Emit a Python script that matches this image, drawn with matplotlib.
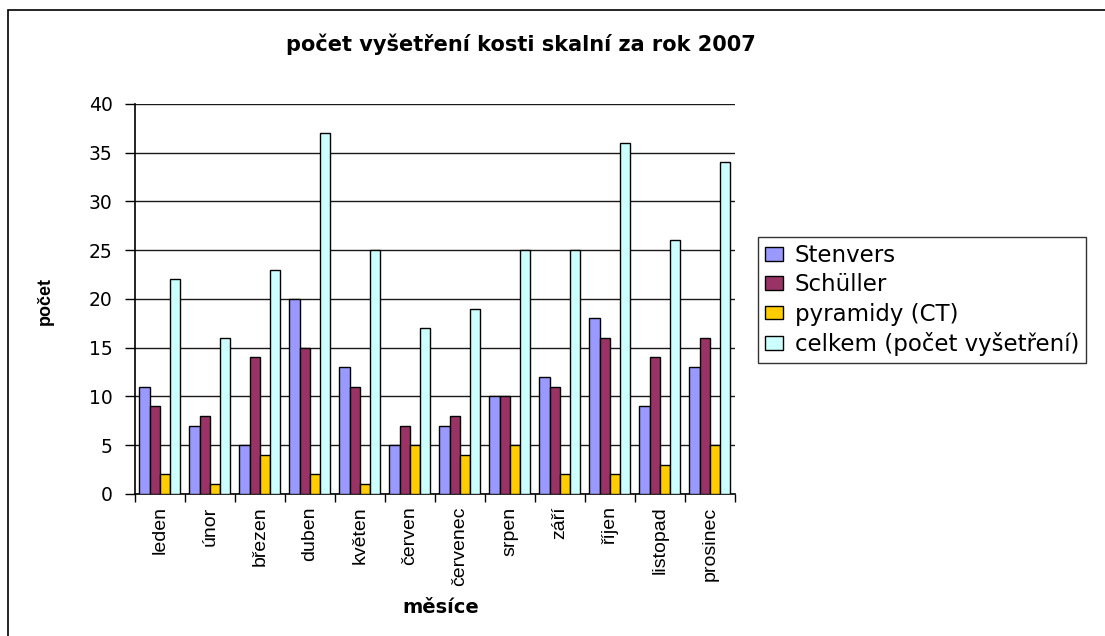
import matplotlib
matplotlib.use("Agg")
import matplotlib.pyplot as plt
import numpy as np
from matplotlib.patches import Rectangle

plt.rcParams["font.family"] = ["DejaVu Sans"]

# počet vyšetření podle měsíců
months = ["leden", "únor", "březen", "duben", "květen", "červen",
          "červenec", "srpen", "září", "říjen", "listopad", "prosinec"]
stenvers = [11, 7, 5, 20, 13, 5, 7, 10, 12, 18, 9, 13]
schuller = [9, 8, 14, 15, 11, 7, 8, 10, 11, 16, 14, 16]
pyramidy = [2, 1, 4, 2, 1, 5, 4, 5, 2, 2, 3, 5]
celkem = [22, 16, 23, 37, 25, 17, 19, 25, 25, 36, 26, 34]

series = [
    ("Stenvers", stenvers, "#9999ff"),
    ("Schüller", schuller, "#993366"),
    ("pyramidy (CT)", pyramidy, "#ffcc00"),
    ("celkem (počet vyšetření)", celkem, "#ccffff"),
]

fig = plt.figure(figsize=(11.05, 6.36), dpi=100)
ax = fig.add_axes([0.122, 0.2233, 0.543, 0.6132])

x = np.arange(len(months))
w = 0.205
for i, (name, vals, col) in enumerate(series):
    ax.bar(x + (i - 1.5) * w, vals, w, color=col, edgecolor="black",
           linewidth=1.0, label=name, zorder=3)

ax.set_xlim(-0.5, len(months) - 0.5)
ax.set_ylim(0, 40)
ax.set_yticks(range(0, 41, 5))
ax.yaxis.grid(True, color="#1a1a1a", linewidth=1.0, zorder=0)
ax.set_axisbelow(True)
ax.tick_params(axis="y", labelsize=13.5, length=7, width=1, pad=9,
               direction="out")

ax.set_xticks(x)
ax.set_xticklabels(months, rotation=90, fontsize=14,
                   family=["Liberation Sans", "DejaVu Sans"])
ax.tick_params(axis="x", length=0, pad=9)
ax.set_xticks(np.arange(-0.5, len(months), 1), minor=True)
ax.tick_params(axis="x", which="minor", length=6, width=1, direction="out")

for s in ["top", "right"]:
    ax.spines[s].set_visible(False)
ax.spines["left"].set_linewidth(1.2)
ax.spines["bottom"].set_linewidth(1.2)

ax.set_ylabel("počet", fontsize=13, fontweight="bold",
              family=["Liberation Sans", "DejaVu Sans"])
ax.yaxis.set_label_coords(-0.135, 0.495)
ax.set_xlabel("měsíce", fontsize=14, fontweight="bold", va="center")
ax.xaxis.set_label_coords(0.51, -0.292)

fig.text(0.4715, 0.931, "počet vyšetření kosti skalní za rok 2007",
         ha="center", va="center", fontsize=15, fontweight="bold")

leg = fig.legend(loc="upper left", bbox_to_anchor=(0.686, 0.6274),
                 borderaxespad=0, fontsize=16.5, frameon=True, fancybox=False,
                 edgecolor="black", handlelength=0.8, handleheight=0.55,
                 handletextpad=0.5, borderpad=0.3, labelspacing=0.28)
leg.get_frame().set_linewidth(1.0)

fig.patches.append(Rectangle((0.0072, -0.01), 1.0, 0.994, transform=fig.transFigure,
                             fill=False, edgecolor="black", linewidth=1.2))

fig.savefig("out.png", dpi=100)
